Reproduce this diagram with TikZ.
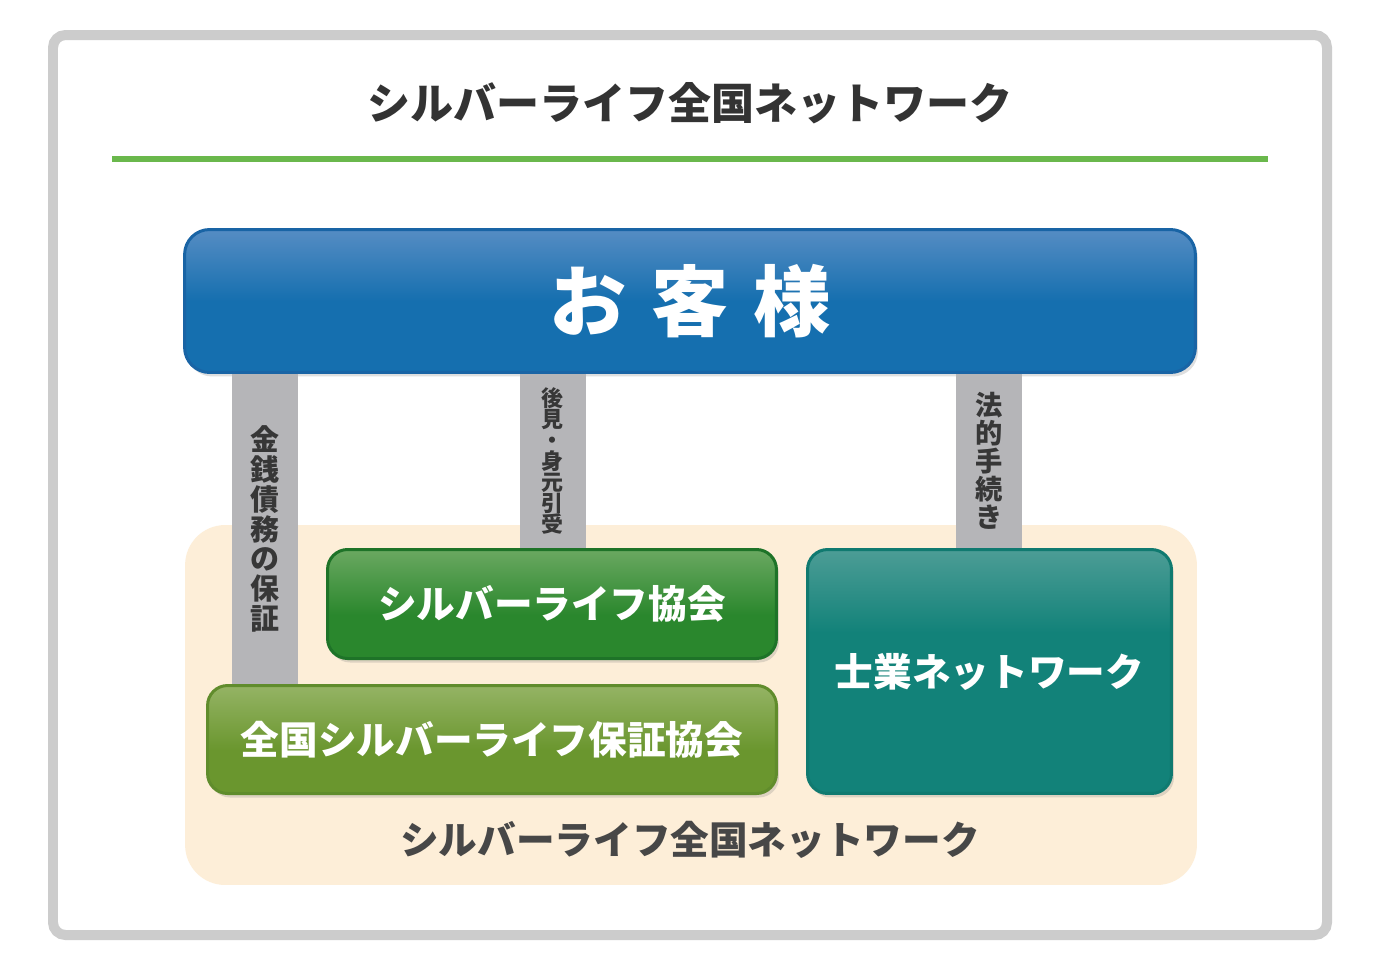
\documentclass[tikz,border=0pt]{standalone}
\usepackage{fontspec}
\newfontfamily\jpfont{Noto Sans CJK JP}
\usetikzlibrary{shadows}

\definecolor{framegray}{RGB}{204,204,204}
\definecolor{rulegreen}{RGB}{106,184,76}
\definecolor{titlegray}{RGB}{51,51,51}
\definecolor{bargray}{RGB}{181,181,184}
\definecolor{bartextgray}{RGB}{55,55,55}
\definecolor{cream}{RGB}{253,238,216}
\definecolor{bluebase}{RGB}{21,111,175}
\definecolor{bluetop}{RGB}{150,170,216}
\definecolor{blueedge}{RGB}{25,100,165}
\definecolor{greenbase}{RGB}{42,135,45}
\definecolor{greentop}{RGB}{160,196,140}
\definecolor{greenedge}{RGB}{30,115,40}
\definecolor{olivebase}{RGB}{106,150,46}
\definecolor{olivetop}{RGB}{184,204,146}
\definecolor{oliveedge}{RGB}{96,140,44}
\definecolor{tealbase}{RGB}{18,130,121}
\definecolor{tealtop}{RGB}{162,196,192}
\definecolor{tealedge}{RGB}{16,122,112}

\pgfdeclareverticalshading{blueshade}{100bp}{color(0bp)=(bluebase); color(50bp)=(bluebase); color(100bp)=(bluetop)}
\pgfdeclareverticalshading{greenshade}{100bp}{color(0bp)=(greenbase); color(45bp)=(greenbase); color(100bp)=(greentop)}
\pgfdeclareverticalshading{oliveshade}{100bp}{color(0bp)=(olivebase); color(45bp)=(olivebase); color(100bp)=(olivetop)}
\pgfdeclareverticalshading{tealshade}{100bp}{color(0bp)=(tealbase); color(58bp)=(tealbase); color(100bp)=(tealtop)}

\tikzset{
	box/.style={shade, line width=0.06cm, rounded corners=0.4cm, text=white,
		font=\jpfont\bfseries\fontsize{22}{24}\selectfont,
		drop shadow={shadow xshift=0.05cm, shadow yshift=-0.08cm, opacity=0.25}},
	bar/.style={line width=1.32cm, bargray},
	bartext/.style={align=center, text=bartextgray, inner sep=0pt},
}

\begin{document}
\begin{tikzpicture}[x=0.02cm, y=-0.02cm]
	%%%%% START %%%%%
	\useasboundingbox (0,0) rectangle (1378,964);
	\fill[white] (0,0) rectangle (1378,964);
	
	\draw[line width=0.2cm, framegray, rounded corners=0.25cm] (53,35) rectangle (1327,935);
	
	\node[text=titlegray, font=\jpfont\bfseries\fontsize{24.5}{26}\selectfont] (title) at (690,103) {シルバーライフ全国ネットワーク};
	\draw[line width=0.12cm, rulegreen] (112,159) -- (1268,159);
	
	% network area
	\node[fill=cream, rounded corners=0.8cm, minimum width=20.24cm, minimum height=7.2cm] (network) at (691,705) {};
	\node[text=titlegray!90, font=\jpfont\bfseries\fontsize{22}{24}\selectfont] (netlabel) at (690,840) {シルバーライフ全国ネットワーク};
	
	% boxes
	\node[box, shading=blueshade, draw=blueedge, rounded corners=0.5cm, minimum width=20.22cm, minimum height=2.86cm,
		font=\jpfont\bfseries\fontsize{44}{46}\selectfont] (customer) at (690,301) {お\hspace{0.5cm}客\hspace{0.5cm}様};
	\node[box, shading=greenshade, draw=greenedge, minimum width=8.98cm, minimum height=2.18cm] (assoc) at (552,604) {シルバーライフ協会};
	\node[box, shading=oliveshade, draw=oliveedge, minimum width=11.38cm, minimum height=2.16cm] (guarantee) at (492,739.5) {全国シルバーライフ保証協会};
	\node[box, shading=tealshade, draw=tealedge, minimum width=7.28cm, minimum height=4.88cm] (shigyo) at (989.5,671.5) {士業ネットワーク};
	
	% bars
	\coordinate (b1) at (265,0);
	\coordinate (b2) at (552.5,0);
	\coordinate (b3) at (989,0);
	
	\draw[bar] (customer.south -| b1) -- (guarantee.north -| b1)
		node[midway, bartext, font=\jpfont\bfseries\fontsize{16.5}{17}\selectfont] (money) {金\\銭\\債\\務\\の\\保\\証};
	\draw[bar] (customer.south -| b2) -- (assoc.north -| b2)
		node[midway, bartext, font=\jpfont\bfseries\fontsize{12.5}{12}\selectfont] (guardian) {後\\見\\・\\身\\元\\引\\受};
	\draw[bar] (customer.south -| b3) -- (shigyo.north -| b3)
		node[midway, bartext, font=\jpfont\bfseries\fontsize{15.5}{16}\selectfont] (legal) {法\\的\\手\\続\\き};
	
	%%%%% END %%%%%
\end{tikzpicture}
\end{document}
